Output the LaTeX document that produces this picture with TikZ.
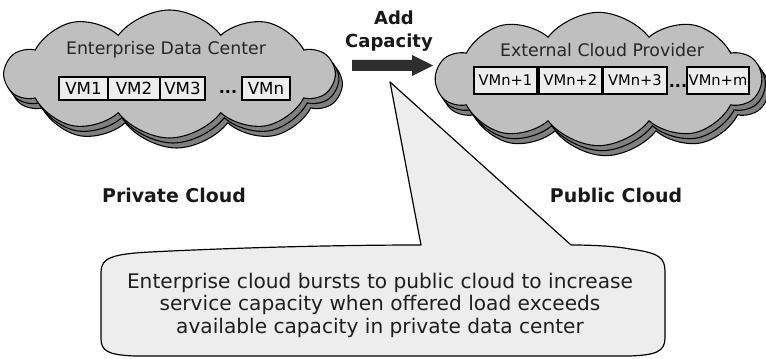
\documentclass[tikz,border=0pt]{standalone}
\usepackage{fontspec}
\setmainfont{DejaVu Sans}
\usetikzlibrary{shapes.symbols}
\begin{document}
\begin{tikzpicture}[x=0.75pt,y=-0.75pt,
  cloudbody/.style={cloud, cloud puffs=10, cloud puff arc=105, draw=black, line width=0.8pt, fill=black!25, inner sep=0pt, shape border rotate=8},
  cloudshadow/.style={cloudbody, fill=black!50},
  vmleft/.style={draw=black, line width=1pt, fill=black!7, inner sep=0pt, minimum height=17.25pt, font=\fontsize{12.5}{14}\selectfont},
  vmright/.style={draw=black, line width=1pt, fill=black!7, inner sep=0pt, minimum height=20.25pt, font=\fontsize{11}{13}\selectfont},
  cloudlabel/.style={font=\fontsize{13}{15}\selectfont, text=black!85},
  biglabel/.style={font=\fontsize{14.2}{16}\selectfont\bfseries, text=black!90},
  addlabel/.style={font=\fontsize{13.5}{16}\selectfont\bfseries, text=black!90},
  dotslabel/.style={font=\fontsize{12}{14}\selectfont\bfseries, inner sep=0pt},
  callouttext/.style={font=\fontsize{15.1}{16.9}\selectfont, text=black!88, align=center},
  calloutshape/.style={draw=black, line width=0.9pt, fill=black!7, line join=round}
]
\useasboundingbox (0,0) rectangle (766,359);

% left cloud
\node[cloudshadow, minimum width=246pt, minimum height=96pt] (lcs2) at (176.5,84) {};
\node[cloudshadow, minimum width=246pt, minimum height=96pt] (lcs1) at (173,79) {};
\node[cloudbody, minimum width=246pt, minimum height=96pt] (lc) at (169.5,74) {};
\node[cloudlabel] (lcl) at (166,50) {Enterprise Data Center};
\node[vmleft, minimum width=36.75pt] (vm1) at (83.5,88.5) {VM1};
\node[vmleft, minimum width=39pt] (vm2) at (134,88.5) {VM2};
\node[vmleft, minimum width=33.75pt] (vm3) at (182.5,88.5) {VM3};
\node[dotslabel] (ldots) at (228,92) {...};
\node[vmleft, minimum width=36pt] (vmn) at (266,88.5) {VMn};

% right cloud
\node[cloudshadow, minimum width=243pt, minimum height=100pt] (rcs2) at (605.5,89) {};
\node[cloudshadow, minimum width=243pt, minimum height=100pt] (rcs1) at (602,84) {};
\node[cloudbody, minimum width=243pt, minimum height=100pt] (rc) at (598.5,79) {};
\node[cloudlabel] (rcl) at (602,50) {External Cloud Provider};
\node[vmright, minimum width=47.25pt] (vr1) at (505.5,80.5) {VMn+1};
\node[vmright, minimum width=47.25pt] (vr2) at (570.5,80.5) {VMn+2};
\node[vmright, minimum width=48pt] (vr3) at (635,80.5) {VMn+3};
\node[dotslabel] (rdots) at (678,86) {...};
\node[vmright, minimum width=46.5pt] (vrm) at (718,80.5) {VMn+m};

% arrow
\fill[black!82] (352,60) -- (412,60) -- (412,55) -- (433,65.5) -- (412,76) -- (412,71) -- (352,71) -- cycle;
\node[addlabel] (add) at (394,18) {Add};
\node[addlabel] (cap) at (389,43) {Capacity};

% labels
\node[biglabel] (priv) at (174,195) {Private Cloud};
\node[biglabel] (pub) at (616,195) {Public Cloud};

% callout
\draw[calloutshape] (101,272) .. controls (101,258) and (112,254) .. (150,252)
  .. controls (250,247) and (350,245) .. (421,245) -- (390,82) -- (571,245)
  .. controls (600,245) and (620,247) .. (630,249)
  .. controls (660,253) and (665,258) .. (665,272)
  -- (665,338) .. controls (665,352) and (655,355) .. (630,356)
  -- (135,356) .. controls (106,355) and (101,350) .. (101,338) -- cycle;
\node[callouttext] (ct) at (380,305) {Enterprise cloud bursts to public cloud to increase\\service capacity when offered load exceeds\\available capacity in private data center};
\end{tikzpicture}
\end{document}
